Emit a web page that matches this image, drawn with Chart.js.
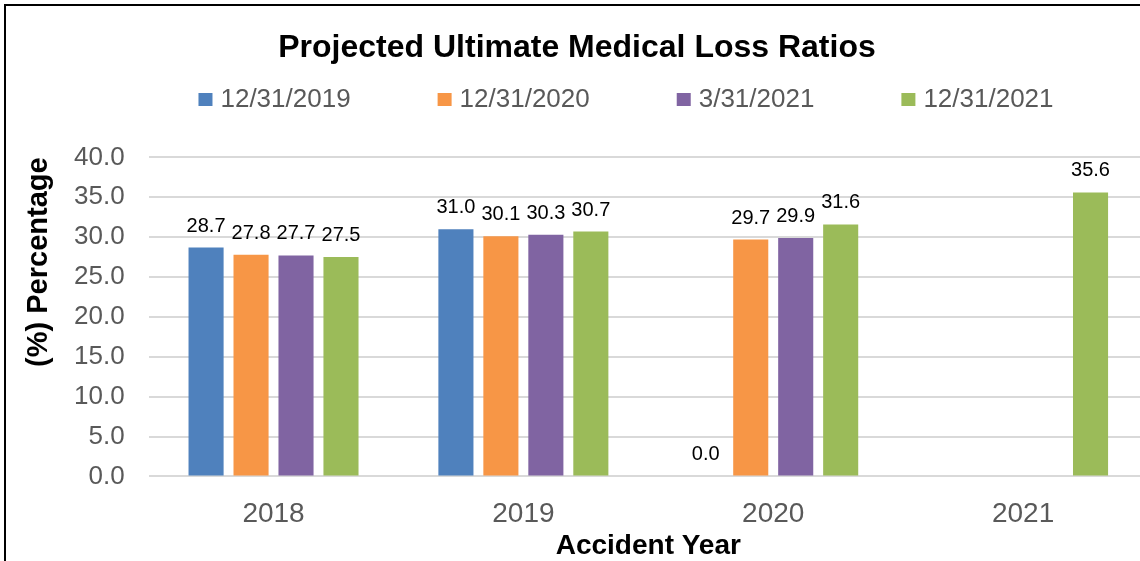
<!DOCTYPE html>
<html>
<head>
<meta charset="utf-8">
<script src="https://cdn.jsdelivr.net/npm/chart.js@4.4.1/dist/chart.umd.min.js"></script>
<style>
  html, body { margin: 0; padding: 0; background: #fff; overflow: hidden; width: 1140px; height: 561px; }
  .frame { position: absolute; left: 4px; top: 4px; border-left: 2px solid #000; border-top: 2px solid #000; }
  canvas { display: block; }
</style>
</head>
<body>
<div class="frame"><canvas id="lossChart" width="1146" height="561"></canvas></div>
<script>
const years = ["2018", "2019", "2020", "2021"];
const seriesNames = ["12/31/2019", "12/31/2020", "3/31/2021", "12/31/2021"];
const asOf2019 = [28.7, 31.0, 0.0, null];
const asOf2020 = [27.8, 30.1, 29.7, null];
const asOfMar2021 = [27.7, 30.3, 29.9, null];
const asOfDec2021 = [27.5, 30.7, 31.6, 35.6];
const colors = ["#4f81bd", "#f79646", "#8064a2", "#9bbb59"];

const FONT = "'Liberation Sans', Arial, sans-serif";

// value labels above each bar
const barLabels = {
    id: 'barLabels',
    afterDatasetsDraw(chart) {
        const ctx = chart.ctx;
        ctx.save();
        ctx.font = "20px " + FONT;
        ctx.fillStyle = "#000";
        ctx.textAlign = "center";
        ctx.textBaseline = "alphabetic";
        chart.data.datasets.forEach(function (ds, i) {
            chart.getDatasetMeta(i).data.forEach(function (bar, j) {
                const v = ds.data[j];
                if (v === null || v === undefined) return;
                ctx.fillText(v.toFixed(1), bar.x, bar.y - 16);
            });
        });
        ctx.restore();
    }
};

// legend drawn by hand so the item spacing can match the original
const wideLegend = {
    id: 'wideLegend',
    afterDraw(chart) {
        const ctx = chart.ctx;
        ctx.save();
        ctx.font = "26px " + FONT;
        const box = 14, gap = 8, spacing = 87;
        const widths = chart.data.datasets.map(ds => ctx.measureText(ds.label).width);
        let total = 0;
        widths.forEach(w => total += box + gap + w);
        total += spacing * (widths.length - 1);
        let x = chart.width / 2 + 47 - total / 2;
        const y = 93;
        chart.data.datasets.forEach(function (ds, i) {
            ctx.fillStyle = ds.backgroundColor;
            ctx.fillRect(x, y - 6, box, 13);
            ctx.fillStyle = "#595959";
            ctx.textAlign = "left";
            ctx.textBaseline = "middle";
            ctx.fillText(ds.label, x + box + gap, y + 1);
            x += box + gap + widths[i] + spacing;
        });
        ctx.restore();
    }
};

const allSeries = [asOf2019, asOf2020, asOfMar2021, asOfDec2021];

new Chart(document.getElementById("lossChart").getContext("2d"), {
    type: 'bar',
    data: {
        labels: years,
        datasets: allSeries.map(function (d, i) {
            return {
                label: seriesNames[i],
                data: d,
                backgroundColor: colors[i],
                categoryPercentage: 0.72,
                barPercentage: 0.78
            };
        })
    },
    options: {
        responsive: false,
        animation: false,
        layout: { padding: { left: 0, right: 4, top: 0, bottom: 3 } },
        plugins: {
            legend: { display: false },
            tooltip: { enabled: false },
            title: {
                display: true,
                text: "Projected Ultimate Medical Loss Ratios",
                color: "#000",
                font: { family: FONT, size: 32, weight: 'bold' },
                padding: { top: 23, bottom: 90 }
            }
        },
        scales: {
            x: {
                grid: { display: false, drawTicks: false },
                border: { display: false },
                ticks: { color: "#595959", font: { family: FONT, size: 28 }, padding: 21 },
                title: {
                    display: true,
                    text: "Accident Year",
                    color: "#000",
                    font: { family: FONT, size: 28, weight: 'bold', lineHeight: 1 },
                    padding: { top: -20, bottom: 4 }
                }
            },
            y: {
                min: 0,
                max: 40,
                border: { display: false },
                grid: { color: "#d9d9d9", lineWidth: 2, drawTicks: false },
                ticks: {
                    stepSize: 5,
                    padding: 24,
                    color: "#595959",
                    font: { family: FONT, size: 26 },
                    callback: v => Number(v).toFixed(1)
                },
                title: {
                    display: true,
                    align: 'end',
                    text: "(%) Percentage",
                    color: "#000",
                    font: { family: FONT, size: 29, weight: 'bold', lineHeight: 1 },
                    padding: { top: 18, bottom: -3 }
                }
            }
        }
    },
    plugins: [barLabels, wideLegend]
});
</script>
</body>
</html>
